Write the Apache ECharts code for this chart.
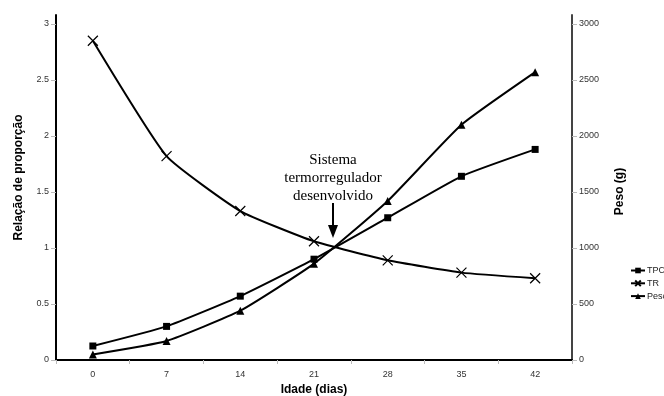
<!DOCTYPE html>
<html><head><meta charset="utf-8">
<script src="https://cdn.jsdelivr.net/npm/echarts@6/dist/echarts.min.js"></script>
<style>html,body{margin:0;padding:0;background:#fff}#c{width:664px;height:396px}</style>
</head><body><div id="c"></div>
<script>
var categories = ['0','7','14','21','28','35','42'];
var tpc = [0.125, 0.30, 0.57, 0.90, 1.27, 1.64, 1.88];
var tr = [2.85, 1.82, 1.33, 1.06, 0.89, 0.78, 0.73];
var peso = [50, 170, 440, 860, 1420, 2100, 2570];
var leftTicks = [0, 0.5, 1, 1.5, 2, 2.5, 3];
var rightTicks = [0, 500, 1000, 1500, 2000, 2500, 3000];

var chart = echarts.init(document.getElementById('c'));
var F = 'Liberation Sans, Arial, sans-serif';
chart.setOption({
  animation: false,
  backgroundColor: '#fff',
  grid: {left: 56, right: 92, top: 15, bottom: 36, outerBoundsMode: 'none', containLabel: false},
  legend: {
    orient: 'vertical', left: 625, top: 261, itemGap: 3, itemWidth: 14, itemHeight: 7,
    textStyle: {fontFamily: F, fontSize: 9, color: '#222', padding: [0,0,0,-3]},
    data: ['TPC','TR','Peso']
  },
  xAxis: {
    type: 'category', data: categories, boundaryGap: true,
    axisLine: {lineStyle: {color: '#000', width: 2}},
    axisTick: {show: true, length: 4, lineStyle: {color: '#bbb'}},
    axisLabel: {fontFamily: F, fontSize: 9, color: '#333', margin: 10},
    name: 'Idade (dias)', nameLocation: 'middle', nameGap: 24, nameMoveOverlap: false,
    nameTextStyle: {fontFamily: F, fontSize: 12, fontWeight: 'bold', color: '#000'}
  },
  yAxis: [{
    type: 'value', min: 0, max: 3.08, position: 'left',
    axisLine: {show: true, lineStyle: {color: '#000', width: 2}},
    axisTick: {show: true, length: 5, customValues: leftTicks, lineStyle: {color: '#bbb'}},
    axisLabel: {fontFamily: F, fontSize: 9, color: '#333', margin: 7, customValues: leftTicks},
    splitLine: {show: false},
    name: 'Relação de proporção', nameLocation: 'middle', nameGap: 31, nameRotate: 90,
    nameTextStyle: {fontFamily: F, fontSize: 12, fontWeight: 'bold', color: '#000', padding: [0,0,0,20]}
  }, {
    type: 'value', min: 0, max: 3080, position: 'right',
    axisLine: {show: true, lineStyle: {color: '#444', width: 2}},
    axisTick: {show: true, length: 5, customValues: rightTicks, lineStyle: {color: '#bbb'}},
    axisLabel: {fontFamily: F, fontSize: 9, color: '#333', margin: 7, customValues: rightTicks,
      formatter: function (v) { return String(v); }},
    splitLine: {show: false},
    name: 'Peso (g)', nameLocation: 'middle', nameGap: 42, nameRotate: 90,
    nameTextStyle: {fontFamily: F, fontSize: 12, fontWeight: 'bold', color: '#000', padding: [0,0,0,-8]}
  }],
  series: [{
    name: 'TPC', type: 'line', data: tpc, smooth: 0.15, symbol: 'rect', symbolSize: 7,
    lineStyle: {color: '#000', width: 2}, itemStyle: {color: '#000'}
  }, {
    name: 'TR', type: 'line', data: tr, smooth: 0.15,
    symbol: 'path://M0,0L10,10M10,0L0,10', symbolSize: 10,
    lineStyle: {color: '#000', width: 2},
    itemStyle: {color: 'none', borderColor: '#000', borderWidth: 1.2}
  }, {
    name: 'Peso', type: 'line', yAxisIndex: 1, data: peso, smooth: 0.15, symbol: 'triangle', symbolSize: 8,
    lineStyle: {color: '#000', width: 2}, itemStyle: {color: '#000'}
  }],
  graphic: [
    {type: 'text', x: 333, y: 151, style: {text: 'Sistema\ntermorregulador\ndesenvolvido', fontFamily: 'Liberation Serif, Times New Roman, serif', fontSize: 15, lineHeight: 18, fill: '#000', align: 'center'}},
    {type: 'line', shape: {x1: 333, y1: 203, x2: 333, y2: 226}, style: {stroke: '#000', lineWidth: 2}},
    {type: 'polygon', shape: {points: [[328, 225], [338, 225], [333, 238]]}, style: {fill: '#000'}}
  ]
});
</script></body></html>
